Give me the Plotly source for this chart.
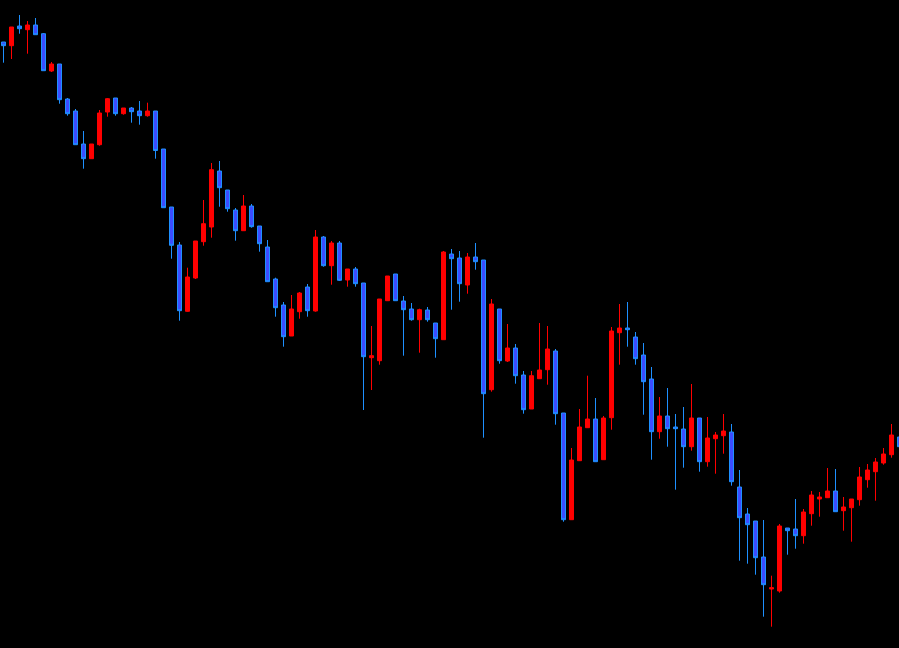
import plotly.graph_objects as go

# Candle index (one bar per period)
bar_index = list(range(113))

open_ = [606, 602.3, 622, 618.3, 623, 614.3, 577, 584, 549, 537,
         504, 489.3, 503.3, 536, 550, 534.3, 540, 537, 532.3, 537,
         499, 441, 403, 336.7, 370, 406.3, 421, 477, 458, 438,
         417.3, 442, 422, 401, 369, 343, 312, 336.3, 361, 337,
         411, 382.3, 405, 368, 379, 365, 290.3, 287.3, 347.3, 374,
         347, 339, 328.3, 338, 325, 308.3, 394, 390, 363, 391,
         388, 258.3, 339, 287, 300, 273, 239, 269.3, 278.3, 297,
         235, 128.3, 187.3, 220.3, 229, 188.3, 230.3, 315.3, 320, 311,
         293, 269, 216.3, 232, 221, 219, 201.3, 230, 186.3, 209.3,
         212.3, 216, 161, 134, 127, 91, 59, 57, 120, 119,
         112.3, 134.3, 149, 150.3, 157, 137.3, 140.3, 148.3, 168.3, 176.3,
         185, 193.3, 211]
high = [606, 621, 633, 627, 630, 615, 586, 584, 550, 539,
        517, 504, 538, 550, 550, 540, 541, 547, 545.3, 537,
        499, 441, 406, 380.3, 407, 448, 485, 487, 458, 440,
        453, 444, 422, 408, 370.3, 346, 353, 356, 364, 418,
        412, 407, 407, 379, 381, 365, 322, 349, 372, 374,
        352, 345, 339.3, 341, 325, 397, 399, 397, 395, 405,
        388, 349, 339, 324, 304, 277, 277, 325, 322, 299,
        235, 200, 239, 272.3, 250, 232, 321, 344, 346, 316,
        305, 281, 251, 260, 234, 241, 264, 230, 231, 216,
        234, 224, 178, 140, 127, 128, 72.3, 124, 120, 149,
        139, 157, 156, 180, 179, 151, 149, 181, 184, 190,
        200, 224, 214]
low = [585.3, 589, 614.3, 594.3, 613.3, 577.3, 576, 544.3, 532.3, 503.3,
       479.3, 489.3, 502.3, 531.3, 532.3, 533.3, 525.3, 523.3, 531.3, 489.3,
       440.3, 389.3, 327.3, 336.3, 369, 402.3, 410.3, 441.3, 436.3, 407.3,
       417.3, 420.3, 396.3, 366.3, 331.3, 301.3, 312, 329.3, 331.3, 336.3,
       381.3, 363.3, 367, 361.3, 361.3, 238, 258, 283.3, 347.3, 347.3,
       292.3, 327.3, 295.3, 326.3, 290.3, 308.3, 338.3, 346.3, 354.3, 378.3,
       210.3, 256.3, 284.3, 286, 264.3, 234.3, 239, 269.3, 263.3, 223.3,
       126.3, 128.3, 187.3, 220.3, 186.3, 188.3, 218.3, 283.3, 301.3, 283.3,
       233.3, 188.3, 209.3, 201.3, 158.3, 180.3, 197.3, 176.3, 181.3, 174.3,
       194.3, 162.3, 87.3, 84.3, 73.3, 31.3, 21.3, 55.3, 93.3, 99.3,
       104.3, 122.3, 131.3, 150.3, 136.3, 117.3, 106.3, 142.3, 160.3, 147.3,
       183.3, 190.3, 199]
close = [602.3, 621, 619.3, 623, 613.3, 577.3, 584, 548.3, 534.3, 503.3,
         489.3, 504, 535, 549.3, 534.3, 540, 536.3, 532.3, 537, 497.5,
         440.3, 402.7, 337.3, 371, 407, 424.3, 478.3, 460.3, 439.3, 417.3,
         442, 421.3, 404.3, 366.3, 340.3, 311.3, 339, 355, 337.3, 411,
         382.3, 405, 367.7, 379, 364.3, 291.3, 292.3, 349, 372, 347.3,
         338.3, 328.3, 338.3, 328.3, 309.3, 396, 389.3, 364.3, 391, 386.3,
         254.3, 344, 287.3, 300, 272.3, 238.3, 272.3, 278, 299, 234.3,
         128.3, 188, 221, 229, 186.3, 230, 317, 320, 318.3, 289.3,
         266.3, 216.3, 232, 219.3, 219.3, 201.3, 230, 186.3, 210, 213,
         217, 166.3, 130.3, 123.3, 90.3, 63.3, 60.3, 122, 117.3, 112.3,
         136, 153, 151, 157, 136.3, 141, 149, 171, 178, 186,
         194, 213, 201.3]

fig = go.Figure(go.Candlestick(
    x=bar_index, open=open_, high=high, low=low, close=close,
    increasing=dict(line=dict(color="#FF0000", width=1), fillcolor="#FF0000"),
    decreasing=dict(line=dict(color="#1E90FF", width=1), fillcolor="#3C4CFF"),
    whiskerwidth=0,
    hoverinfo="x+y",
))

fig.update_layout(
    width=899, height=648,
    margin=dict(l=0, r=0, t=0, b=0),
    paper_bgcolor="#000000", plot_bgcolor="#000000",
    showlegend=False,
    boxgap=0.5, boxgroupgap=0,
    xaxis=dict(range=[-0.4375, 111.9375], visible=False, showgrid=False,
               zeroline=False, rangeslider=dict(visible=False)),
    yaxis=dict(range=[0, 648], visible=False, showgrid=False, zeroline=False),
)

fig.write_html(
    "out.html",
    config={"displayModeBar": False},
    post_script="document.body.style.margin='0';document.body.style.background='#000';document.body.style.overflow='hidden';",
)
